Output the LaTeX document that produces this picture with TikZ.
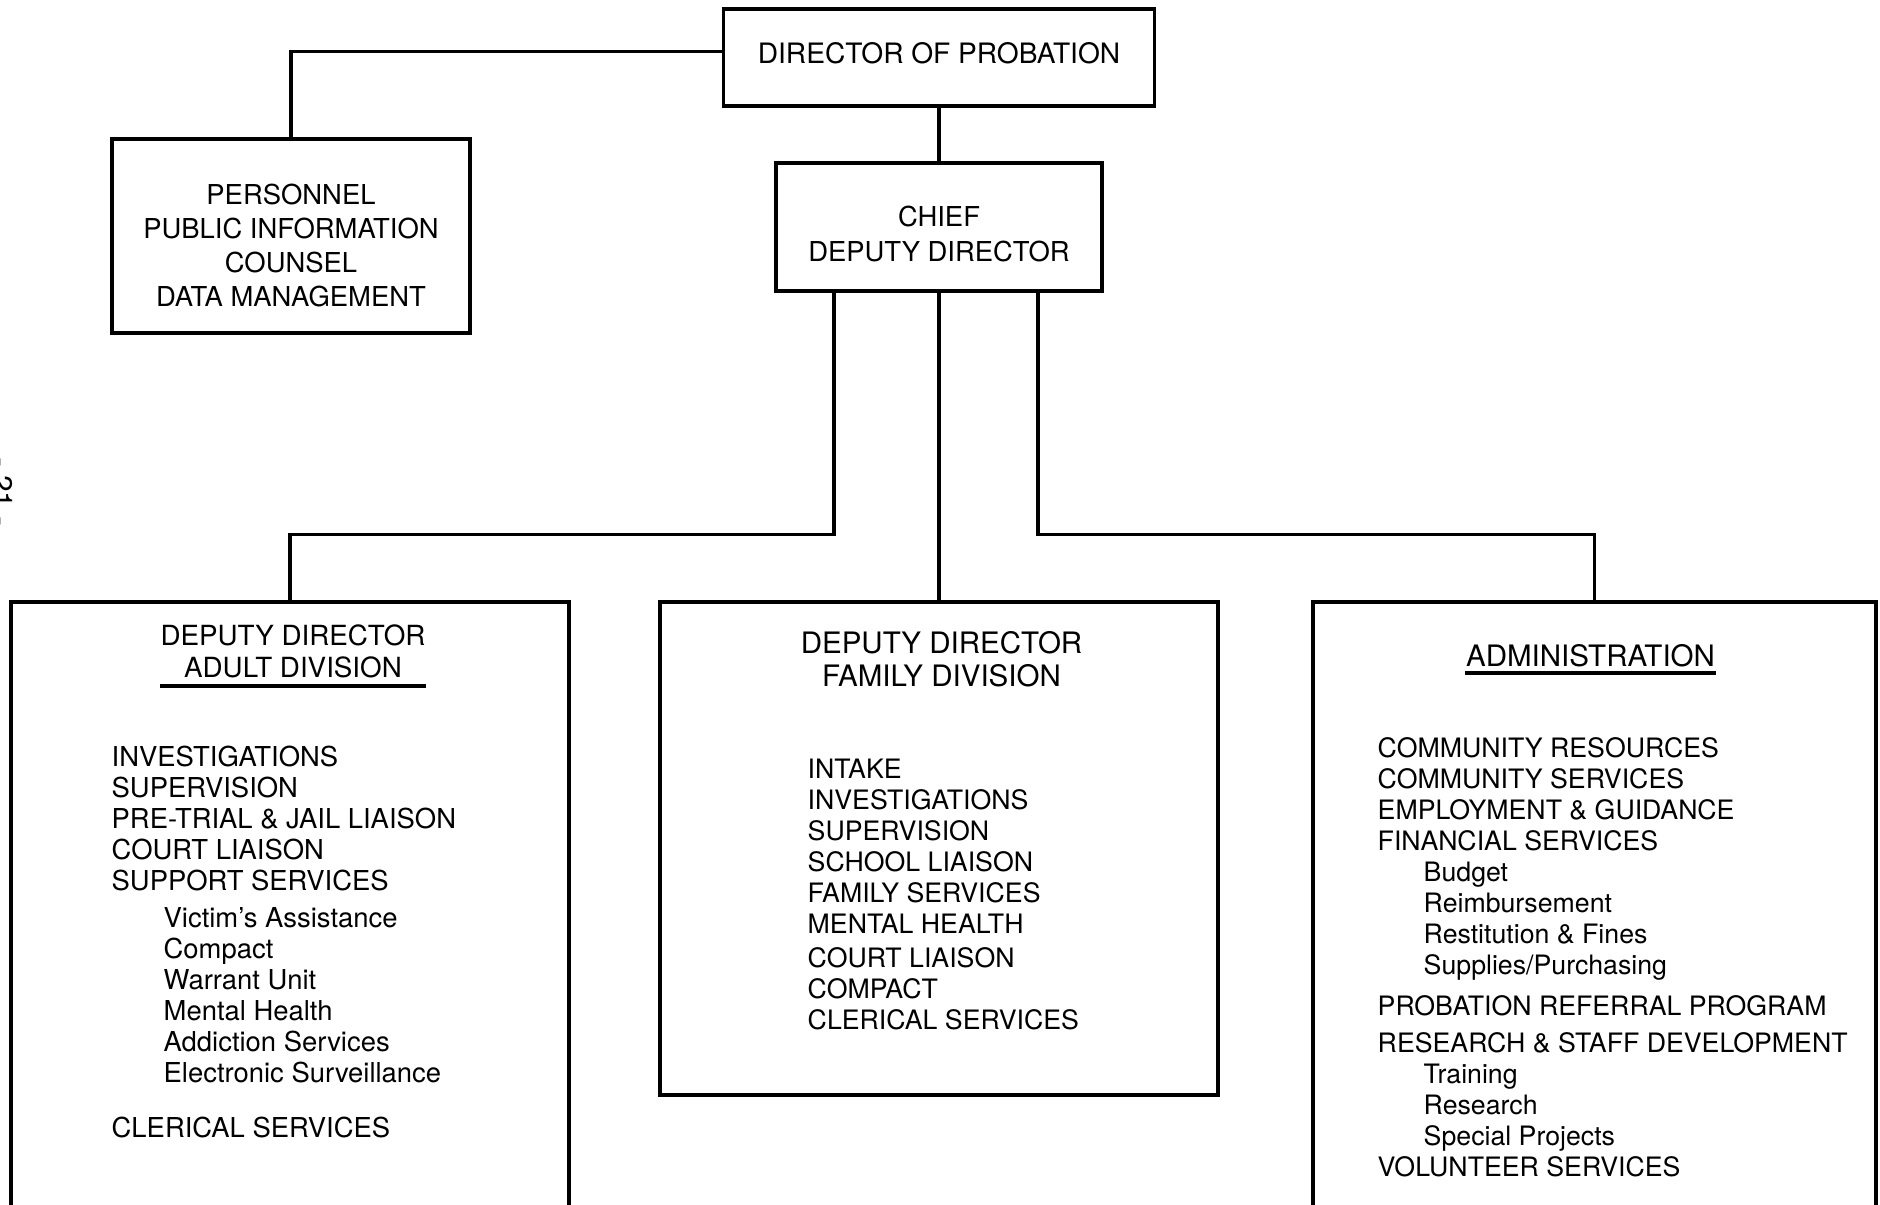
\documentclass[tikz,border=0pt]{standalone}
\usepackage{fontspec}
\setmainfont{TeX Gyre Heros}
\usepackage{tikz}

\begin{document}
\begin{tikzpicture}[
        unit/.style={rectangle, black, draw, line width=1pt, align=center, inner sep=0pt},
        title/.style={black, align=center, inner sep=0pt},
        head/.style={black, align=center, inner sep=0pt, anchor=south, font=\fontsize{8.4}{9.4}\selectfont},
        duties/.style={black, align=left, anchor=north west, inner sep=0pt, font=\fontsize{7.6}{8.82}\selectfont},
        link/.style={black, line width=0.9pt}
    ]
        \useasboundingbox (0, 0) rectangle (18.8, -12.05);

        % top of the chart
        \draw (9.39, -0.575) node(director)[unit, minimum width = 4.31cm, minimum height = 0.97cm]{};
        \draw (2.91, -2.36) node(staff)[unit, minimum width = 3.58cm, minimum height = 1.94cm]{};
        \draw (9.39, -2.27) node(chief)[unit, minimum width = 3.26cm, minimum height = 1.28cm]{};
        \draw ([yshift=0.04cm]director.center) node(directortext)[title, font=\fontsize{8}{9}\selectfont]{DIRECTOR OF PROBATION};
        \draw ([yshift=-0.095cm]staff.center) node(stafftext)[title, font=\fontsize{7.8}{9.76}\selectfont]{PERSONNEL\\PUBLIC INFORMATION\\COUNSEL\\DATA MANAGEMENT};
        \draw ([yshift=-0.07cm]chief.center) node(chieftext)[title, font=\fontsize{7.8}{9.7}\selectfont]{CHIEF\\DEPUTY DIRECTOR};

        % the three divisions
        \draw (2.90, -9.21) node(adult)[unit, minimum width = 5.58cm, minimum height = 6.38cm]{};
        \draw (9.39, -8.485) node(family)[unit, minimum width = 5.58cm, minimum height = 4.93cm]{};
        \draw (15.945, -9.21) node(admin)[unit, minimum width = 5.63cm, minimum height = 6.38cm]{};

        \draw (2.93, -6.785) node(adulthead)[head, font=\fontsize{7.9}{9.1}\selectfont]{DEPUTY DIRECTOR\\ADULT DIVISION};
        \draw (9.415, -6.88) node(familyhead)[head]{DEPUTY DIRECTOR\\FAMILY DIVISION};
        \draw (15.905, -6.68) node(adminhead)[head]{ADMINISTRATION};
        \draw[link] ([yshift=-0.075cm]adulthead.south west) -- ([yshift=-0.075cm]adulthead.south east);
        \draw[link] ([yshift=-0.05cm]adminhead.south west) -- ([yshift=-0.05cm]adminhead.south east);

        \draw (1.11, -7.45) node(adultlist)[duties, font=\fontsize{7.8}{8.82}\selectfont]{INVESTIGATIONS\\
            SUPERVISION\\
            PRE-TRIAL \& JAIL LIAISON\\
            COURT LIAISON\\
            SUPPORT SERVICES\\[1.7pt]
            \hspace*{0.52cm}Victim's Assistance\\
            \hspace*{0.52cm}Compact\\
            \hspace*{0.52cm}Warrant Unit\\
            \hspace*{0.52cm}Mental Health\\
            \hspace*{0.52cm}Addiction Services\\
            \hspace*{0.52cm}Electronic Surveillance\\[7pt]
            CLERICAL SERVICES};
        \draw (8.07, -7.58) node(familylist)[duties]{INTAKE\\
            INVESTIGATIONS\\
            SUPERVISION\\
            SCHOOL LIAISON\\
            FAMILY SERVICES\\
            MENTAL HEALTH\\[1pt]
            COURT LIAISON\\
            COMPACT\\
            CLERICAL SERVICES};
        \draw (13.77, -7.37) node(adminlist)[duties]{COMMUNITY RESOURCES\\
            COMMUNITY SERVICES\\
            EMPLOYMENT \& GUIDANCE\\
            FINANCIAL SERVICES\\
            \hspace*{0.46cm}Budget\\
            \hspace*{0.46cm}Reimbursement\\
            \hspace*{0.46cm}Restitution \& Fines\\
            \hspace*{0.46cm}Supplies/Purchasing\\[2.85pt]
            PROBATION REFERRAL PROGRAM\\[1.7pt]
            RESEARCH \& STAFF DEVELOPMENT\\
            \hspace*{0.46cm}Training\\
            \hspace*{0.46cm}Research\\
            \hspace*{0.46cm}Special Projects\\
            VOLUNTEER SERVICES};

        % page number on the edge
        \draw (0.13, -4.92) node(pageno)[black, rotate=-90, anchor=north, inner sep=0pt, font=\fontsize{8.5}{9}\selectfont]{- 21 -};

        % lines
        \draw[link] ([yshift=0.06cm]director.west) -| (staff.north);
        \draw[link] (director.south) -- (chief.north);
        \draw[link] ([xshift=-1.05cm]chief.south) |- ([yshift=0.66cm]adult.north) -- (adult.north);
        \draw[link] (chief.south) -- (family.north);
        \draw[link] ([xshift=0.99cm]chief.south) |- ([yshift=0.66cm]admin.north) -- (admin.north);
    \end{tikzpicture}
\end{document}
